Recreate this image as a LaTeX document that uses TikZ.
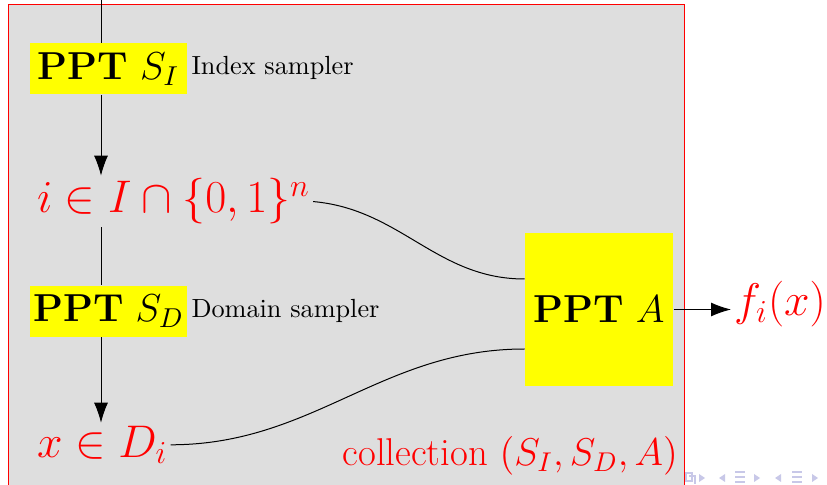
\RequirePackage{fix-cm}
\documentclass[tikz,border=0pt]{standalone}
\usetikzlibrary{arrows.meta}
\definecolor{slidegray}{RGB}{222,222,222}
\definecolor{navblue}{RGB}{200,200,232}
\definecolor{boxyellow}{RGB}{255,255,0}
\definecolor{mathred}{RGB}{255,0,0}

\begin{document}
\begin{tikzpicture}[x=0.4pt, y=-0.4pt, >={Latex[length=8pt,width=5.6pt]}]
    % 定义样式
    \tikzstyle{ppt box}=[fill=boxyellow, inner sep=0pt, font=\fontsize{15.6}{18}\selectfont]
    \tikzstyle{red math}=[text=mathred, inner sep=1pt, font=\fontsize{18.3}{22}\selectfont]
    \tikzstyle{sampler note}=[anchor=base west, inner sep=0pt, font=\fontsize{10.5}{12.5}\selectfont]

    \useasboundingbox (0,0) rectangle (827,485);
    \clip (0,0) rectangle (827,485);

    % 灰色背景 (collection)
    \draw[mathred, fill=slidegray] (8,5) rectangle (684,500);

    % 两个 sampler 与它们的输出
    \coordinate (top) at (101,-10);
    \node[ppt box, minimum width=62.8pt, minimum height=20.4pt] (SI) at (108.5,69) {\textbf{PPT} $S_I$};
    \node[sampler note] (SInote) at (191,75) {Index sampler};
    \node[red math, anchor=base west] (i) at (34,213) {$i \in I \cap \{0,1\}^n$};

    \node[ppt box, minimum width=62.8pt, minimum height=20.4pt] (SD) at (108.5,311.5) {\textbf{PPT} $S_D$};
    \node[sampler note] (SDnote) at (191,318) {Domain sampler};
    \node[red math, anchor=base west] (x) at (34,457) {$x \in D_i$};

    % 求值程序
    \node[ppt box, minimum width=59.2pt, minimum height=61.2pt] (A) at (599,309.5) {\textbf{PPT} $A$};
    \node[red math, anchor=west] (f) at (731,304) {$f_i(x)$};

    \node[red math, anchor=base east, font=\fontsize{15.5}{19}\selectfont] (coll) at (681,466) {collection $(S_I, S_D, A)$};

    % 竖直箭头 (被黄色方框挡住的部分分开画)
    \draw (top) -- (top |- SI.north);
    \draw[->] (top |- SI.south) -- (top |- i.north);
    \draw (top |- i.south) -- (top |- SD.north);
    \draw[->] (top |- SD.south) -- (top |- x.north);

    % 进入 A 的曲线
    \draw (i.east) to[out=-5, in=180] ([yshift=12.2pt]A.west);
    \draw (x.east) to[out=0, in=180] ([yshift=-15.8pt]A.west);
    \draw[->] (A.east) -- (f.west |- A.east);

    % 右下角的导航符号
    \draw[navblue, line width=0.8pt] (686,473) rectangle (692,481) (689,476) -- (695,476) -- (695,484);
    \foreach \px in {702,757,815}
        \fill[navblue] (\px-3,474) -- (\px+3,478) -- (\px-3,482) -- cycle;
    \foreach \px in {722,778}
        \fill[navblue] (\px+3,474) -- (\px-3,478) -- (\px+3,482) -- cycle;
    \foreach \px in {740,797}
        \foreach \py in {472,477,482}
            \draw[navblue, line width=1pt] (\px-5,\py) -- (\px+5,\py);
\end{tikzpicture}
\end{document}
